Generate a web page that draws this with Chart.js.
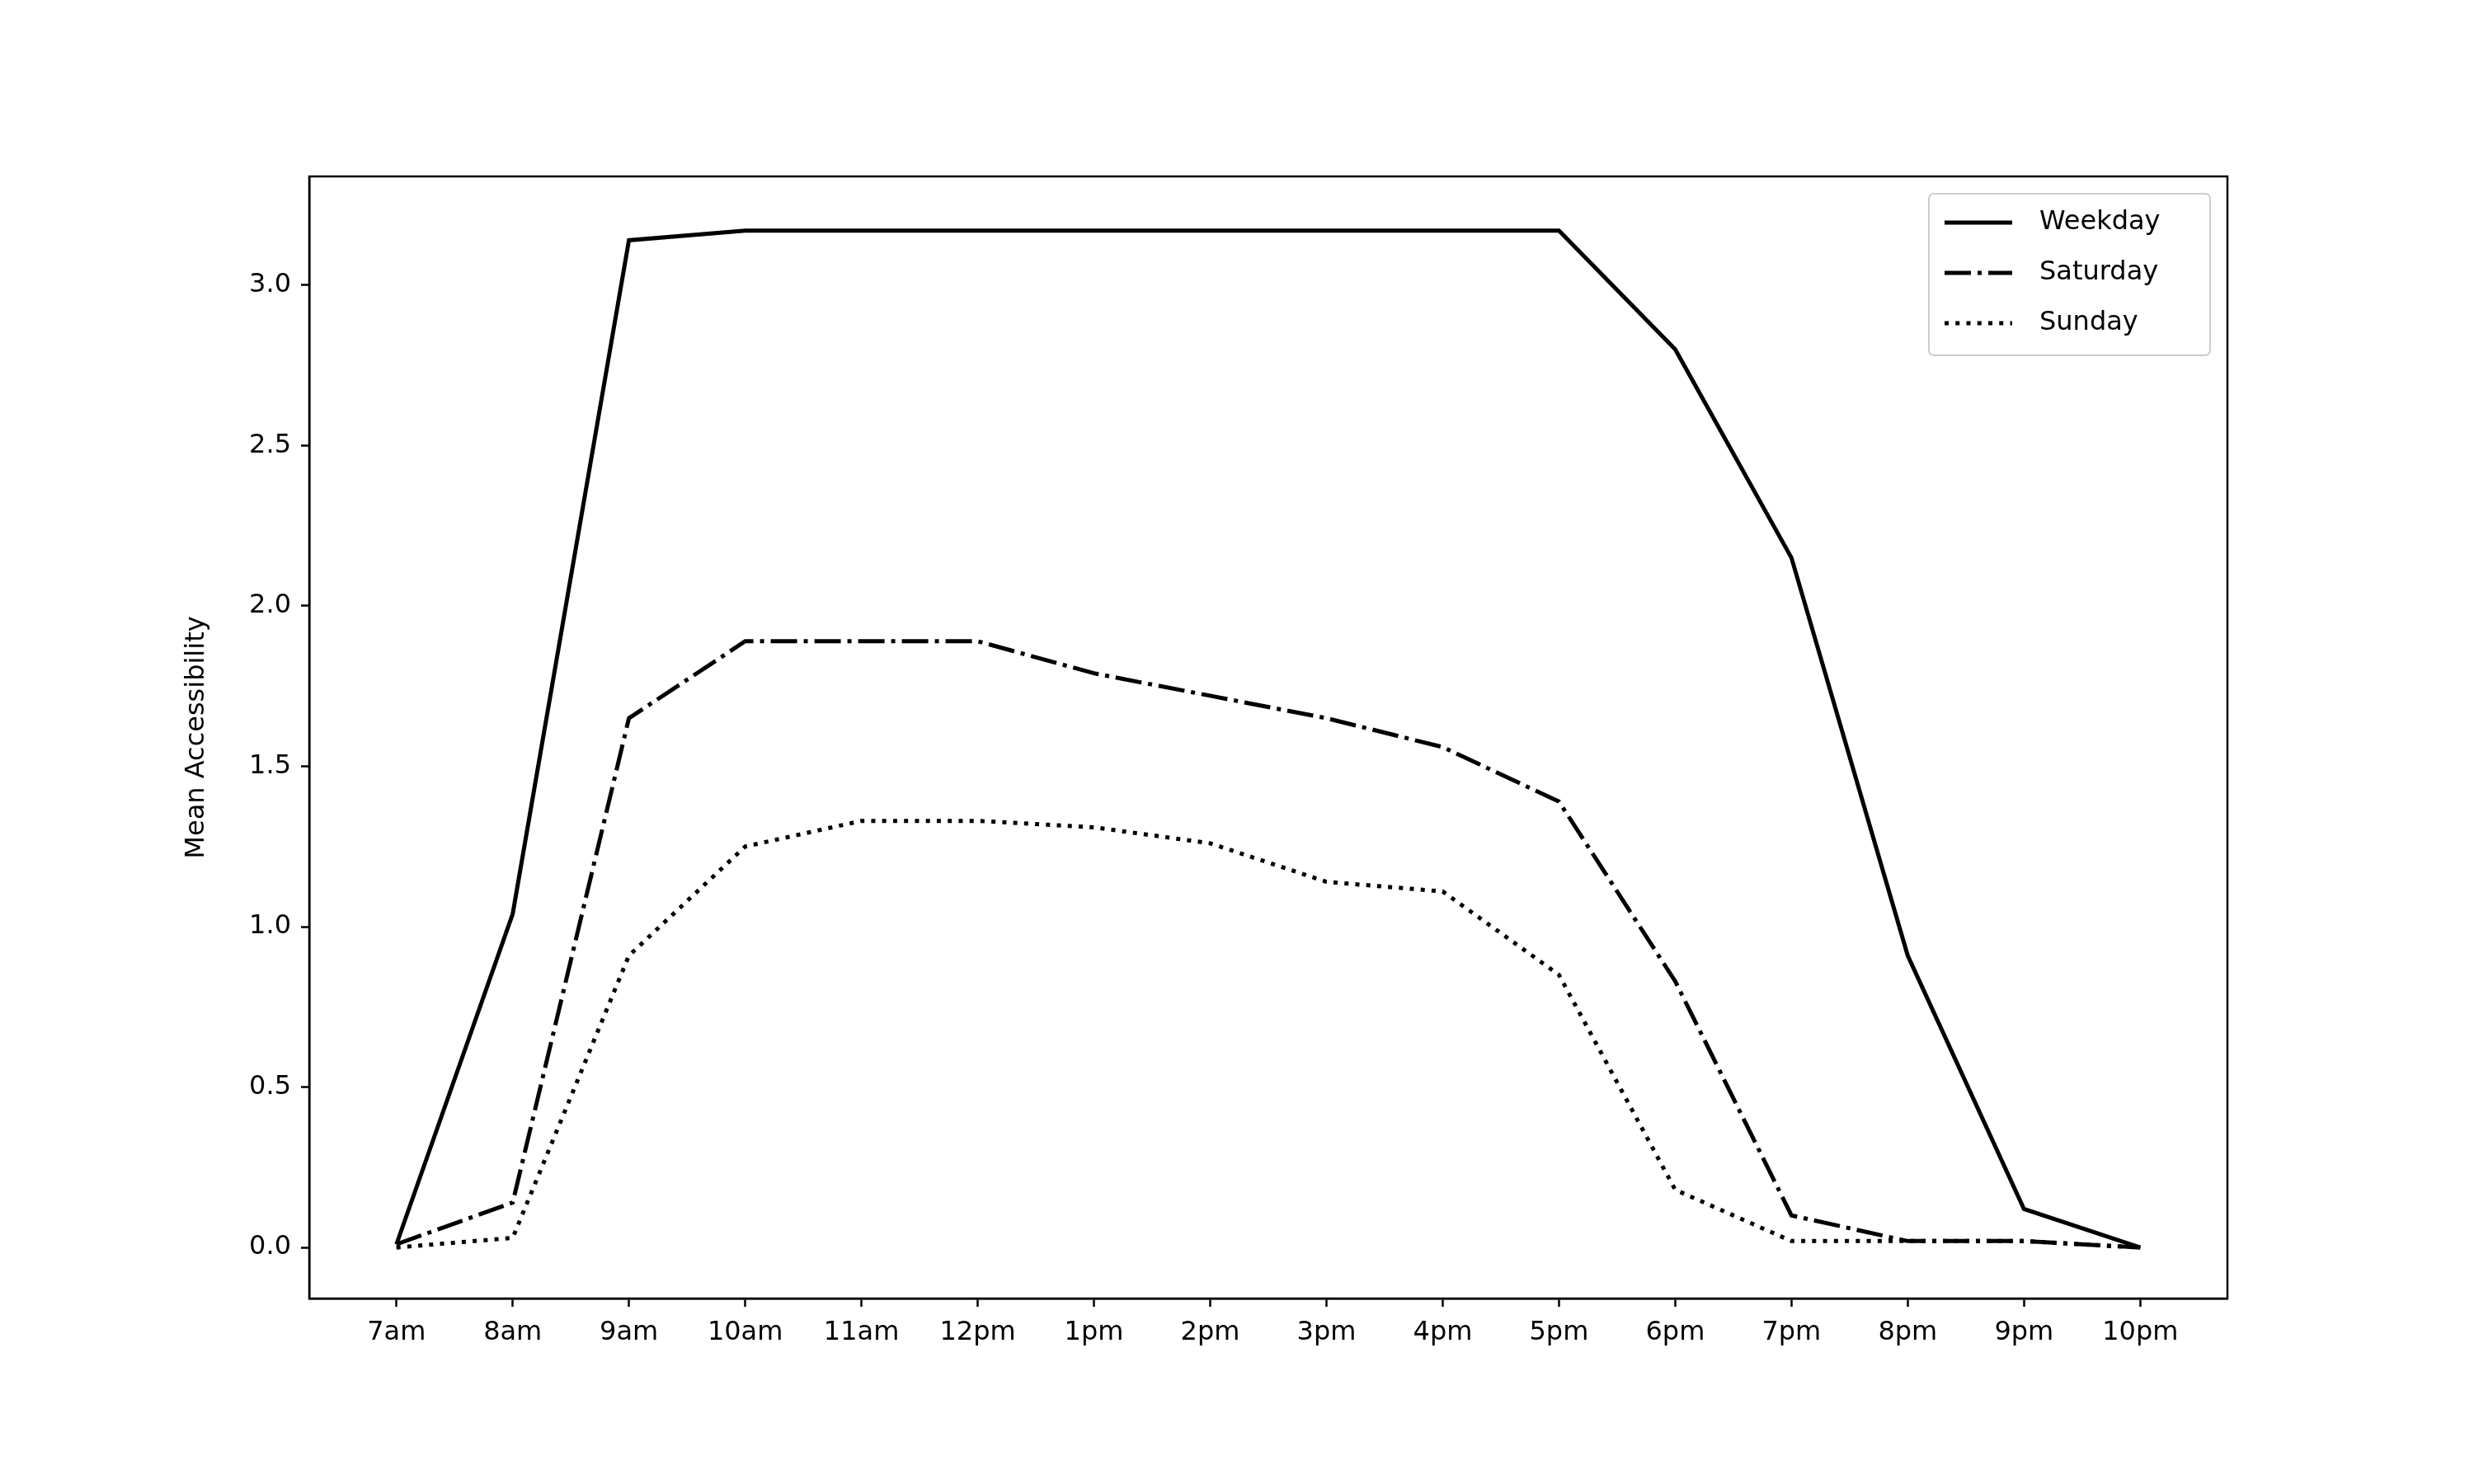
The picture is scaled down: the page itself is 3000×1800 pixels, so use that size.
<!DOCTYPE html>
<html><head><meta charset="utf-8">
<script src="https://cdn.jsdelivr.net/npm/chart.js@4"></script>
<style>body{margin:0;background:#fff}#c{display:block}</style>
</head><body>
<canvas id="c" width="3000" height="1800"></canvas>
<script>
const hours = ['7am','8am','9am','10am','11am','12pm','1pm','2pm','3pm','4pm','5pm','6pm','7pm','8pm','9pm','10pm'];
const weekday = [0.01,1.04,3.14,3.17,3.17,3.17,3.17,3.17,3.17,3.17,3.17,2.80,2.15,0.91,0.12,0.00];
const saturday = [0.01,0.14,1.65,1.89,1.89,1.89,1.79,1.72,1.65,1.56,1.39,0.83,0.10,0.02,0.02,0.00];
const sunday = [0.00,0.03,0.91,1.25,1.33,1.33,1.31,1.26,1.14,1.11,0.85,0.18,0.02,0.02,0.02,0.00];
const yTicks = [0,0.5,1.0,1.5,2.0,2.5,3.0];

const FONT = 'DejaVu Sans';
const FS = 32;
const LW = 5;
const styles = [
  { label: 'Weekday', data: weekday, dash: [] },
  { label: 'Saturday', data: saturday, dash: [6.4*LW, 1.6*LW, 1*LW, 1.6*LW] },
  { label: 'Sunday', data: sunday, dash: [1*LW, 1.65*LW] }
];

const overlay = {
  id: 'overlay',
  afterDraw(chart) {
    const { ctx, chartArea: a } = chart;
    ctx.save();
    ctx.strokeStyle = '#000';
    ctx.lineWidth = 2.5;
    ctx.strokeRect(a.left, a.top, a.right - a.left, a.bottom - a.top);
    // y title
    ctx.fillStyle = '#000';
    ctx.font = FS + 'px "' + FONT + '"';
    ctx.translate(239, (a.top + a.bottom) / 2);
    ctx.rotate(-Math.PI / 2);
    ctx.textAlign = 'center';
    ctx.textBaseline = 'middle';
    ctx.fillText('Mean Accessibility', 0, 0);
    ctx.restore();
    // legend
    ctx.save();
    ctx.fillStyle = '#fff';
    ctx.strokeStyle = '#ccc';
    ctx.lineWidth = 2;
    ctx.beginPath();
    ctx.roundRect(2339, 235, 341, 196, 6);
    ctx.fill(); ctx.stroke();
    ctx.font = FS + 'px "' + FONT + '"';
    ctx.textBaseline = 'middle';
    styles.forEach((s, i) => {
      const y = 270 + i * 61;
      ctx.strokeStyle = '#000';
      ctx.lineWidth = LW;
      ctx.setLineDash(s.dash);
      ctx.beginPath(); ctx.moveTo(2358, y); ctx.lineTo(2440, y); ctx.stroke();
      ctx.setLineDash([]);
      ctx.fillStyle = '#000';
      ctx.fillText(s.label, 2473, y);
    });
    ctx.restore();
  }
};

new Chart(document.getElementById('c'), {
  type: 'line',
  data: {
    datasets: styles.map(s => ({
      label: s.label,
      data: s.data.map((v, i) => ({ x: i, y: v })),
      borderColor: '#000',
      borderWidth: LW,
      borderDash: s.dash,
      borderCapStyle: 'butt',
      pointRadius: 0,
      tension: 0,
      fill: false
    }))
  },
  options: {
    responsive: false,
    animation: false,
    layout: { padding: { left: 0, top: 214, right: 299, bottom: 0 } },
    plugins: { legend: { display: false }, tooltip: { enabled: false } },
    scales: {
      x: {
        type: 'linear', min: -0.75, max: 15.75,
        afterBuildTicks: ax => { ax.ticks = hours.map((_, i) => ({ value: i })); },
        afterFit: ax => { ax.height = 225; },
        ticks: { callback: v => hours[v], color: '#000', font: { family: FONT, size: FS }, padding: 12, maxRotation: 0, autoSkip: false },
        grid: { drawOnChartArea: false, drawTicks: true, tickLength: 10, tickWidth: 2.5, color: '#000' },
        border: { display: true, color: '#000', width: 2.5 }
      },
      y: {
        type: 'linear', min: -0.159, max: 3.339,
        afterBuildTicks: ax => { ax.ticks = yTicks.map(v => ({ value: v })); },
        afterFit: ax => { ax.width = 375; },
        ticks: { callback: v => v.toFixed(1), color: '#000', font: { family: FONT, size: FS }, padding: 12 },
        grid: { drawOnChartArea: false, drawTicks: true, tickLength: 10, tickWidth: 2.5, color: '#000' },
        border: { display: true, color: '#000', width: 2.5 }
      }
    }
  },
  plugins: [overlay]
});
</script>
</body></html>
